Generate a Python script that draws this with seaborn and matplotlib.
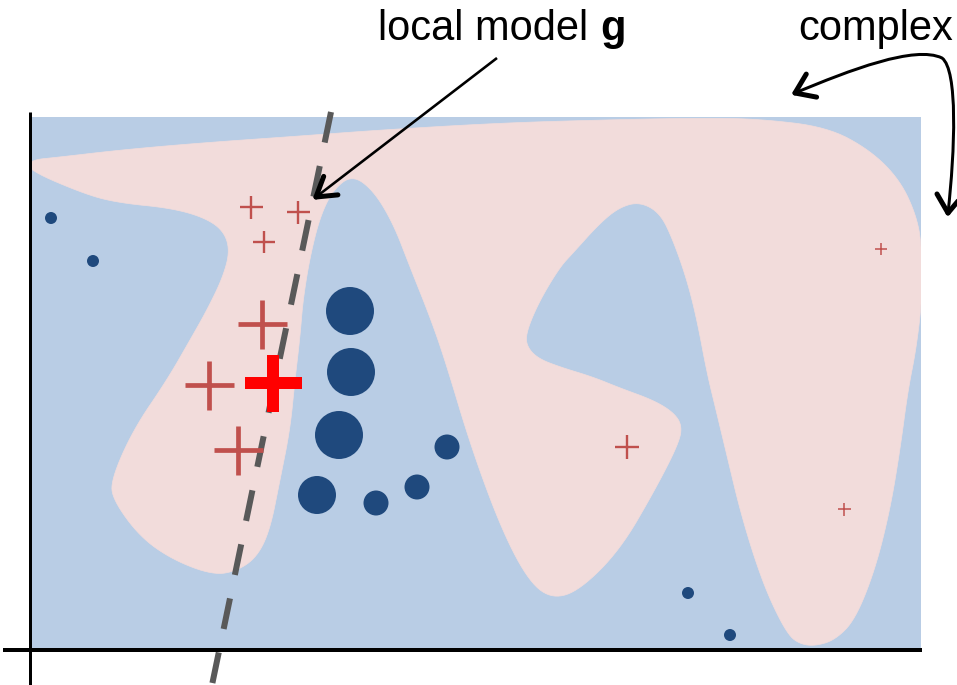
import numpy as np
import pandas as pd
import matplotlib
matplotlib.use("Agg")
import matplotlib.pyplot as plt
import seaborn as sns
from matplotlib.patches import Polygon, Rectangle, FancyArrowPatch
from matplotlib.path import Path

# ---------------- data (pixel-space units of the illustration) ----------------
# blue background (complex model f: negative class) extent
bg_x = [30, 921]
bg_y = [117, 648]

# pink decision region outline (complex model f: positive class)
region_x = [30, 60, 120, 200, 300, 380, 500, 600, 700, 760, 827, 870, 900, 917, 922, 922,
            916, 908, 900, 890, 875, 855, 835, 815, 800, 788, 770, 755, 740, 728, 716, 707,
            697, 687, 673, 660, 640, 620, 600, 573, 560, 540, 527, 526, 537, 560, 593, 620,
            653, 673, 682, 679, 655, 620, 580, 553, 530, 503, 472, 445, 430, 410, 393, 373,
            352, 333, 320, 310, 303, 300, 295, 290, 280, 270, 257, 237, 213, 173, 140, 113,
            111, 133, 167, 190, 207, 223, 230, 223, 203, 170, 120, 87, 28]
region_y = [160, 157, 150, 143, 136, 130, 123, 120, 118, 119, 127, 150, 180, 217, 250, 300,
            350, 390, 450, 510, 570, 620, 640, 646, 644, 635, 600, 560, 510, 460, 410, 373,
            320, 280, 240, 213, 202, 207, 223, 253, 267, 300, 330, 345, 358, 367, 377, 388,
            400, 412, 425, 443, 490, 550, 590, 599, 583, 533, 450, 360, 317, 267, 223, 190,
            175, 190, 217, 257, 300, 337, 380, 430, 480, 530, 557, 571, 575, 560, 537, 500,
            480, 430, 380, 340, 310, 277, 250, 230, 217, 208, 203, 195, 170]

# negative instances (blue circles)
neg_x = [350, 351, 339, 317, 376, 417, 447, 51, 93, 688, 730]
neg_y = [311, 372, 435, 495, 503, 487, 447, 218, 261, 593, 635]
neg_d = [48, 48, 48, 38, 25, 25, 25, 12, 12, 12, 12]          # diameter, px

# positive instances (red pluses)
pos_x = [262, 209, 238, 251, 298, 264, 627, 881, 844]
pos_y = [324, 385, 450, 207, 212, 242, 447, 249, 509]
pos_d = [49, 49, 49, 23, 23, 22, 24, 12, 13]                   # span, px
pos_w = [3.4, 3.4, 3.4, 1.7, 1.7, 1.7, 1.7, 1.1, 1.1]          # stroke, pt

# instance being explained
inst_x = [273]
inst_y = [383]

# local linear model g (dashed line end points)
g_x = [331, 212]
g_y = [112, 685]

# ---------------- drawing ----------------
W, H = 957, 685
DPI = 100
PX = 72.0 / DPI  # points per pixel


def chaikin(xs, ys, n=2):
    pts = np.column_stack([xs, ys]).astype(float)
    for _ in range(n):
        nxt = np.roll(pts, -1, axis=0)
        q = 0.75 * pts + 0.25 * nxt
        r = 0.25 * pts + 0.75 * nxt
        pts = np.empty((2 * len(q), 2))
        pts[0::2] = q
        pts[1::2] = r
    return pts


def chevron(ax, tip, toward, length=22, angle=34, lw=5 * PX):
    tp = np.asarray(tip, float)
    uu = np.asarray(toward, float) - tp
    uu /= np.linalg.norm(uu)
    for ang in (-angle, angle):
        th = np.deg2rad(ang)
        rot = np.array([[np.cos(th), -np.sin(th)], [np.sin(th), np.cos(th)]])
        e = tp + rot @ uu * length
        ax.plot([tp[0], e[0]], [tp[1], e[1]], color="black", lw=lw,
                solid_capstyle="round", zorder=8)


sns.set_theme(style="white")
plt.rcParams["font.family"] = ["Liberation Sans", "DejaVu Sans"]

fig = plt.figure(figsize=(W / DPI, H / DPI), dpi=DPI)
ax = fig.add_axes([0, 0, 1, 1])
ax.set_xlim(0, W)
ax.set_ylim(H, 0)
ax.axis("off")

blue_bg = "#B9CDE5"
pink = "#F2DCDB"
navy = "#1F497D"
dark_red = "#C0504D"

ax.add_patch(Rectangle((bg_x[0], bg_y[0]), bg_x[1] - bg_x[0], bg_y[1] - bg_y[0],
                       facecolor=blue_bg, edgecolor="none", zorder=1))
outline = chaikin(region_x, region_y, 3)
clip_rect = Rectangle((bg_x[0], bg_y[0]), bg_x[1] - bg_x[0], bg_y[1] - bg_y[0],
                      transform=ax.transData, facecolor="none", edgecolor="none")
poly = Polygon(outline, closed=True, facecolor=pink, edgecolor=pink, lw=0.5,
               joinstyle="round", zorder=2)
ax.add_patch(poly)
poly.set_clip_path(clip_rect)

# axes of the sketch
ax.plot([30, 30], [112, 685], color="black", lw=3 * PX, solid_capstyle="butt", zorder=3)
ax.plot([3, 922], [650, 650], color="black", lw=4 * PX, solid_capstyle="butt", zorder=3)

# dashed local model
g_df = pd.DataFrame({"x": g_x, "y": g_y})
sns.lineplot(data=g_df, x="x", y="y", ax=ax, color="#595959", lw=6 * PX,
             sort=False, estimator=None, zorder=4)
line = ax.lines[-1]
line.set_dashes((5.2, 4.0))
line.set_dash_capstyle("butt")

# negative instances
neg_df = pd.DataFrame({"x": neg_x, "y": neg_y, "s": [(d * PX) ** 2 for d in neg_d]})
sns.scatterplot(data=neg_df, x="x", y="y", s=neg_df["s"], color=navy, edgecolor="none",
                linewidth=0, ax=ax, zorder=5, legend=False)

# positive instances
pos_df = pd.DataFrame({"x": pos_x, "y": pos_y, "s": [(d * PX) ** 2 for d in pos_d]})
sns.scatterplot(data=pos_df, x="x", y="y", s=pos_df["s"], marker="+", color=dark_red,
                linewidths=pos_w, ax=ax, zorder=5, legend=False)

# explained instance
inst_df = pd.DataFrame({"x": inst_x, "y": inst_y})
sns.scatterplot(data=inst_df, x="x", y="y", s=(57 * PX) ** 2, marker="+", color="#FF0000",
                linewidth=12 * PX, ax=ax, zorder=6, legend=False)

ax.set_xlabel("")
ax.set_ylabel("")

# labels
t1 = ax.text(378, 40, "local model ", fontsize=30, color="black", ha="left", va="baseline",
             zorder=7)
ax.annotate("g", xy=(1, 0), xycoords=t1, fontsize=30, fontweight="bold",
            ha="left", va="bottom", color="black", zorder=7)
ax.text(798, 40, "complex", fontsize=30, color="black", ha="left", va="baseline", zorder=7)

# arrow to local model: thin shaft + bold head
tip = (316.0, 197.0)
start = (497.0, 58.0)
ax.plot([start[0], tip[0]], [start[1], tip[1]], color="black", lw=2.6 * PX,
        solid_capstyle="butt", zorder=8)
chevron(ax, tip, start, length=22, angle=32)

# curved double arrow to the complex model
verts = [(795, 93), (850, 70), (915, 45), (942, 58), (958, 70), (955, 150), (948, 213)]
codes = [Path.MOVETO] + [Path.CURVE4] * 6
curve = FancyArrowPatch(path=Path(verts, codes), arrowstyle="-",
                        color="black", lw=3 * PX, shrinkA=0, shrinkB=0, zorder=8,
                        transform=ax.transData)
ax.add_patch(curve)
chevron(ax, (795, 93), (815, 84), length=22, angle=35)
chevron(ax, (948, 213), (950, 190), length=22, angle=35)

fig.savefig("out.png", dpi=DPI)
